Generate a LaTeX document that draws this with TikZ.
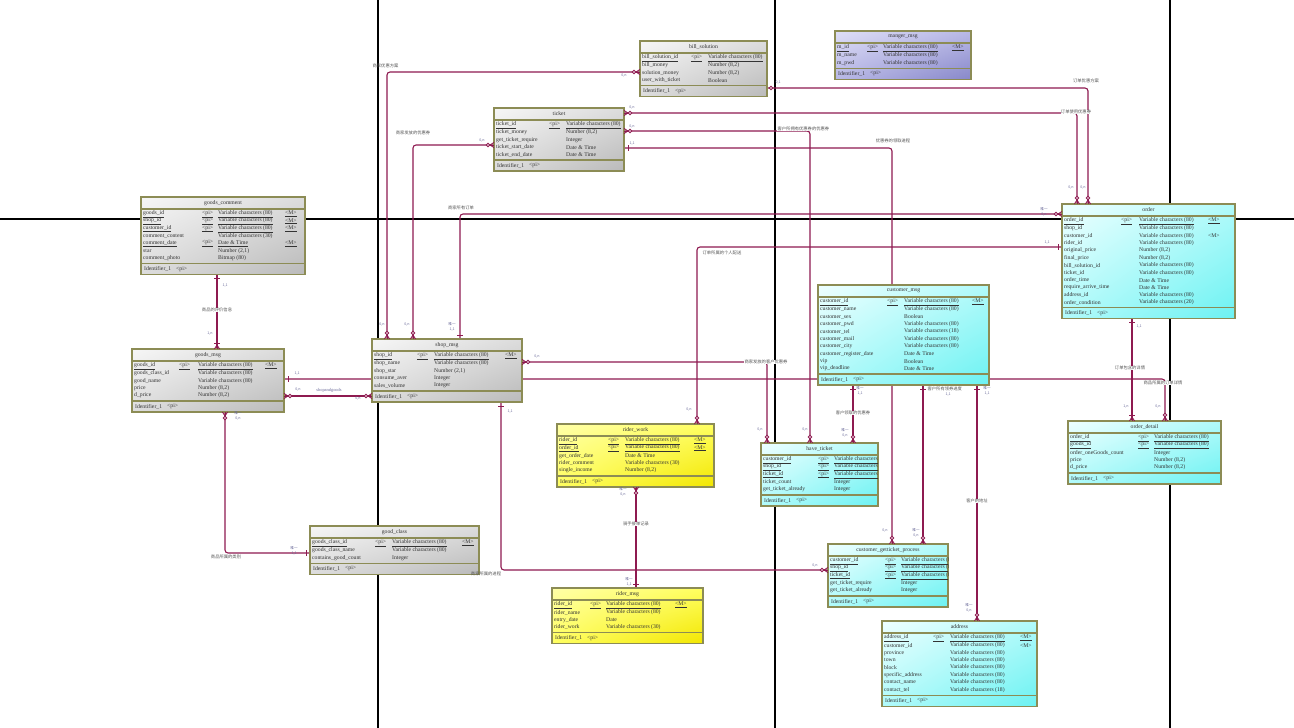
\documentclass[tikz,border=0pt]{standalone}
\usepackage{fontspec}
\setmainfont{Liberation Serif}
\newfontfamily\cjk{Noto Sans CJK SC}
\usetikzlibrary{calc,shadings}
\pgfdeclarelayer{back}\pgfdeclarelayer{bg}
\pgfsetlayers{back,bg,main}
\definecolor{bord}{HTML}{8C8C55}
\definecolor{relc}{HTML}{8E1A50}
\definecolor{cardc}{HTML}{6A6A9A}
\definecolor{labc}{HTML}{555555}
\definecolor{gA}{HTML}{F6F6F6}\definecolor{gM}{HTML}{DCDCDC}\definecolor{gB}{HTML}{BABABA}
\definecolor{cA}{HTML}{EEFFFF}\definecolor{cM}{HTML}{B0FAFA}\definecolor{cB}{HTML}{6CF2F2}
\definecolor{yA}{HTML}{FFFFA8}\definecolor{yM}{HTML}{FFFF60}\definecolor{yB}{HTML}{F2E600}
\definecolor{pA}{HTML}{DEDEF6}\definecolor{pM}{HTML}{B8B8E6}\definecolor{pB}{HTML}{8888CA}
\newcount\rowi
\newcount\nodecnt
\tikzset{
 autoname/.code={\global\advance\nodecnt by 1\edef\tmpnn{nd\the\nodecnt}\pgfkeysalso{name=\tmpnn}},
 tab/.style={draw=bord, line width=1.1pt, anchor=north west, inner sep=0pt, outer sep=0pt},
 grayfill/.style={upper left=gA, upper right=gM, lower left=gM, lower right=gB},
 cyanfill/.style={upper left=cA, upper right=cM, lower left=cM, lower right=cB},
 yelfill/.style={upper left=yA, upper right=yM, lower left=yM, lower right=yB},
 purfill/.style={upper left=pA, upper right=pM, lower left=pM, lower right=pB},
 sepl/.style={draw=bord, line width=1.1pt},
 txt/.style={autoname, anchor=west, inner sep=0pt, font=\fontsize{5.7}{7}\selectfont, text=black!80},
 ttl/.style={inner sep=0pt, font=\fontsize{5.7}{7}\selectfont, text=black!80},
 rel/.style={draw=relc, line width=1.1pt, rounded corners=3pt},
 card/.style={autoname, inner sep=0pt, font=\cjk\fontsize{3.6}{4}\selectfont, text=cardc},
 lab/.style={autoname, inner sep=0.4pt, font=\cjk\fontsize{4.3}{5}\selectfont, text=labc},
 labw/.style={lab, fill=white},
 pageline/.style={draw=black, line width=1.3pt},
}
\newcommand\setcols[3]{\def\ca{#1}\def\cb{#2}\def\cc{#3}}
\newcommand\ertab[8]{%
 \pgfmathsetmacro\tabh{26+#5*7.4}%
 \node[tab,#6,minimum width=#4pt,minimum height=\tabh pt] (#1) at (#2,#3) {};
 \draw[sepl] (#2,{#3+12}) -- ++(#4,0);
 \draw[sepl] (#2,{#3+\tabh-11}) -- ++(#4,0);
 \node[ttl] (#1-t) at ({#2+#4/2},{#3+6}) {#7};
 \node[txt] (#1-i) at ({#2+3},{#3+\tabh-5.5}) {Identifier\_1};
 \node[txt] (#1-p) at ({#2+35},{#3+\tabh-5.5}) {<pi>};
 \begin{scope}
 \clip (#2,#3) rectangle ++(#4,\tabh);
 \def\tx{#2}\def\ty{#3}\global\rowi=0
 #8
 \end{scope}}
\newcommand\erow[3]{\global\advance\rowi by 1
 \pgfmathsetmacro\ry{\ty+17+(\the\rowi-1)*7.4}%
 \node[txt] at ({\tx+2},\ry) {#1};
 \node[txt] at ({\tx+\cb},\ry) {#2};
 \node[txt] at ({\tx+\cc},\ry) {#3};}
\newcommand\ekey[3]{\global\advance\rowi by 1
 \pgfmathsetmacro\ry{\ty+17+(\the\rowi-1)*7.4}%
 \node[txt] at ({\tx+2},\ry) {\underline{#1}};
 \node[txt] at ({\tx+\ca},\ry) {\underline{<pi>}};
 \node[txt] at ({\tx+\cb},\ry) {\underline{#2}};
 \node[txt] at ({\tx+\cc},\ry) {\underline{#3}};}
\newcommand\emark[3]{\begin{scope}[shift={(#1)},rotate=#2,draw=relc,line width=0.8pt]#3\end{scope}}
\def\mcrow{\draw (0,-2.6) -- (4,0) -- (0,2.6); \draw (0,0) -- (4,0);}
\def\mZN{\mcrow \draw[fill=white] (6,0) circle (1.7);}
\def\mON{\mcrow \draw (6,-2.6) -- (6,2.6);}
\def\mOO{\draw (4,-2.8) -- (4,2.8);}
\def\mZO{\draw[fill=white] (4,0) circle (1.7);}
\begin{document}
\begin{tikzpicture}[x=1pt,y=-1pt]
\useasboundingbox (0,0) rectangle (1294,728);
\begin{pgfonlayer}{back}
\fill[white] (0,0) rectangle (1294,728);
\draw[pageline] (378,0) -- (378,728);
\draw[pageline] (775,0) -- (775,728);
\draw[pageline] (1170,0) -- (1170,728);
\draw[pageline] (0,219) -- (1294,219);
\end{pgfonlayer}

% ---------------- tables ----------------
\setcols{51}{68}{140}
\ertab{bill}{640}{41}{127}{4}{grayfill}{bill\_solution}{
 \ekey{bill\_solution\_id}{Variable characters (80)}{<M>}
 \erow{bill\_money}{Number (8,2)}{}
 \erow{solution\_money}{Number (8,2)}{}
 \erow{user\_with\_ticket}{Boolean}{}}

\setcols{32}{48}{117}
\ertab{manger}{835}{31}{136}{3}{purfill}{manger\_msg}{
 \ekey{m\_id}{Variable characters (80)}{<M>}
 \erow{m\_name}{Variable characters (80)}{}
 \erow{m\_pwd}{Variable characters (80)}{}}

\setcols{55}{72}{140}
\ertab{ticket}{494}{108}{130}{5}{grayfill}{ticket}{
 \ekey{ticket\_id}{Variable characters (80)}{<M>}
 \erow{ticket\_money}{Number (8,2)}{}
 \erow{get\_ticket\_require}{Integer}{}
 \erow{ticket\_start\_date}{Date \& Time}{}
 \erow{ticket\_end\_date}{Date \& Time}{}}

\setcols{61}{77}{144}
\ertab{gcomment}{141}{197}{164}{7}{grayfill}{goods\_comment}{
 \ekey{goods\_id}{Variable characters (80)}{<M>}
 \ekey{shop\_id}{Variable characters (80)}{<M>}
 \ekey{customer\_id}{Variable characters (80)}{<M>}
 \erow{comment\_content}{Variable characters (30)}{}
 \ekey{comment\_date}{Date \& Time}{<M>}
 \erow{star}{Number (2,1)}{}
 \erow{comment\_photo}{Bitmap (80)}{}}

\setcols{59}{77}{146}
\ertab{order}{1062}{204}{173}{12}{cyanfill}{order}{
 \ekey{order\_id}{Variable characters (80)}{<M>}
 \erow{shop\_id}{Variable characters (80)}{}
 \erow{customer\_id}{Variable characters (80)}{<M>}
 \erow{rider\_id}{Variable characters (80)}{}
 \erow{original\_price}{Number (8,2)}{}
 \erow{final\_price}{Number (8,2)}{}
 \erow{bill\_solution\_id}{Variable characters (80)}{}
 \erow{ticket\_id}{Variable characters (80)}{}
 \erow{order\_time}{Date \& Time}{}
 \erow{require\_arrive\_time}{Date \& Time}{}
 \erow{address\_id}{Variable characters (80)}{}
 \erow{order\_condition}{Variable characters (20)}{}}

\setcols{69}{86}{154}
\ertab{cust}{818}{285}{171}{10}{cyanfill}{customer\_msg}{
 \ekey{customer\_id}{Variable characters (80)}{<M>}
 \erow{customer\_name}{Variable characters (80)}{}
 \erow{customer\_sex}{Boolean}{}
 \erow{customer\_pwd}{Variable characters (80)}{}
 \erow{customer\_tel}{Variable characters (18)}{}
 \erow{customer\_mail}{Variable characters (80)}{}
 \erow{customer\_city}{Variable characters (80)}{}
 \erow{customer\_register\_date}{Date \& Time}{}
 \erow{vip}{Boolean}{}
 \erow{vip\_deadline}{Date \& Time}{}}

\setcols{45}{62}{133}
\ertab{shop}{372}{339}{150}{5}{grayfill}{shop\_msg}{
 \ekey{shop\_id}{Variable characters (80)}{<M>}
 \erow{shop\_name}{Variable characters (80)}{}
 \erow{shop\_star}{Number (2,1)}{}
 \erow{consume\_aver}{Integer}{}
 \erow{sales\_volume}{Integer}{}}

\setcols{47}{66}{133}
\ertab{gmsg}{132}{349}{152}{5}{grayfill}{goods\_msg}{
 \ekey{goods\_id}{Variable characters (80)}{<M>}
 \erow{goods\_class\_id}{Variable characters (80)}{}
 \erow{good\_name}{Variable characters (80)}{}
 \erow{price}{Number (8,2)}{}
 \erow{d\_price}{Number (8,2)}{}}

\setcols{51}{68}{137}
\ertab{rwork}{557}{424}{157}{5}{yelfill}{rider\_work}{
 \ekey{rider\_id}{Variable characters (80)}{<M>}
 \ekey{order\_id}{Variable characters (80)}{<M>}
 \erow{get\_order\_date}{Date \& Time}{}
 \erow{rider\_comment}{Variable characters (30)}{}
 \erow{single\_income}{Number (8,2)}{}}

\setcols{57}{73}{140}
\ertab{hticket}{761}{443}{117}{5}{cyanfill}{have\_ticket}{
 \ekey{customer\_id}{Variable characters (80)}{}
 \ekey{shop\_id}{Variable characters (80)}{}
 \ekey{ticket\_id}{Variable characters (80)}{}
 \erow{ticket\_count}{Integer}{}
 \erow{get\_ticket\_already}{Integer}{}}

\setcols{70}{86}{150}
\ertab{odetail}{1068}{421}{153}{5}{cyanfill}{order\_detail}{
 \ekey{order\_id}{Variable characters (80)}{}
 \ekey{goods\_id}{Variable characters (80)}{}
 \erow{order\_oneGoods\_count}{Integer}{}
 \erow{price}{Number (8,2)}{}
 \erow{d\_price}{Number (8,2)}{}}

\setcols{65}{82}{152}
\ertab{gclass}{310}{526}{169}{3}{grayfill}{good\_class}{
 \ekey{goods\_class\_id}{Variable characters (80)}{<M>}
 \erow{goods\_class\_name}{Variable characters (80)}{}
 \erow{contains\_good\_count}{Integer}{}}

\setcols{57}{73}{140}
\ertab{cgp}{828}{544}{120}{5}{cyanfill}{customer\_getticket\_process}{
 \ekey{customer\_id}{Variable characters (80)}{}
 \ekey{shop\_id}{Variable characters (80)}{}
 \ekey{ticket\_id}{Variable characters (80)}{}
 \erow{get\_ticket\_require}{Integer}{}
 \erow{get\_ticket\_already}{Integer}{}}

\setcols{51}{68}{138}
\ertab{addr}{882}{621}{155}{8}{cyanfill}{address}{
 \ekey{address\_id}{Variable characters (80)}{<M>}
 \erow{customer\_id}{Variable characters (80)}{<M>}
 \erow{province}{Variable characters (80)}{}
 \erow{town}{Variable characters (80)}{}
 \erow{block}{Variable characters (80)}{}
 \erow{specific\_address}{Variable characters (80)}{}
 \erow{contact\_name}{Variable characters (80)}{}
 \erow{contact\_tel}{Variable characters (18)}{}}

\setcols{38}{54}{123}
\ertab{rmsg}{552}{588}{151}{4}{yelfill}{rider\_msg}{
 \ekey{rider\_id}{Variable characters (80)}{<M>}
 \erow{rider\_name}{Variable characters (80)}{}
 \erow{entry\_date}{Date}{}
 \erow{rider\_work}{Variable characters (30)}{}}

% ---------------- connectors ----------------
\coordinate (A1) at (shop.north -| 387,0);   \coordinate (A2) at (bill.west |- 0,72);
\coordinate (B1) at (shop.north -| 413,0);   \coordinate (B2) at (ticket.west |- 0,145);
\coordinate (C1) at (shop.north -| 460,0);   \coordinate (C2) at (order.west |- 0,214);
\coordinate (D1) at (bill.east |- 0,88);     \coordinate (D2) at (order.north -| 1088,0);
\coordinate (E1) at (ticket.east |- 0,113);  \coordinate (E2) at (order.north -| 1077,0);
\coordinate (F1) at (ticket.east |- 0,131);  \coordinate (F2) at (hticket.north -| 810,0);
\coordinate (G1) at (ticket.east |- 0,148);  \coordinate (G2) at (cgp.north -| 892,0);
\coordinate (H1) at (order.west |- 0,247);   \coordinate (H2) at (rwork.north -| 697,0);
\coordinate (I1) at (shop.east |- 0,362);    \coordinate (I2) at (hticket.north -| 767,0);
\coordinate (J1) at (gmsg.east |- 0,379);    \coordinate (J2) at (odetail.north -| 1165,0);
\coordinate (K1) at (gmsg.east |- 0,396);    \coordinate (K2) at (shop.west |- 0,396);
\coordinate (O1) at (order.south -| 1132,0); \coordinate (O2) at (odetail.north -| 1132,0);
\coordinate (L1) at (gcomment.south -| 217,0); \coordinate (L2) at (gmsg.north -| 217,0);
\coordinate (N1) at (gmsg.south -| 225,0);   \coordinate (N2) at (gclass.west |- 0,553);
\coordinate (P1) at (shop.south -| 501,0);   \coordinate (P2) at (cgp.west |- 0,570);
\coordinate (Q1) at (rwork.south -| 636,0);  \coordinate (Q2) at (rmsg.north -| 636,0);
\coordinate (R1) at (cust.south -| 853,0);   \coordinate (R2) at (hticket.north -| 853,0);
\coordinate (S1) at (cust.south -| 923,0);   \coordinate (S2) at (cgp.north -| 923,0);
\coordinate (T1) at (cust.south -| 977,0);   \coordinate (T2) at (addr.north -| 977,0);

\begin{pgfonlayer}{bg}
\draw[rel] (A1) |- (A2);
\draw[rel] (B1) |- (B2);
\draw[rel] (C1) |- (C2);
\draw[rel] (D1) -| (D2);
\draw[rel] (E1) -| (E2);
\draw[rel] (F1) -| (F2);
\draw[rel] (G1) -| (G2);
\draw[rel] (H1) -| (H2);
\draw[rel] (I1) -| (I2);
\draw[rel] (J1) -| (J2);
\draw[rel] (K1) -- (K2);
\draw[rel] (O1) -- (O2);
\draw[rel] (L1) -- (L2);
\draw[rel] (N1) |- (N2);
\draw[rel] (P1) |- (P2);
\draw[rel] (Q1) -- (Q2);
\draw[rel] (R1) -- (R2);
\draw[rel] (S1) -- (S2);
\draw[rel] (T1) -- (T2);
\end{pgfonlayer}

% ---------------- end marks ----------------
\emark{A1}{90}{\mZN}   \emark{A2}{180}{\mZN}
\emark{B1}{90}{\mZN}   \emark{B2}{180}{\mZN}
\emark{C1}{90}{\mOO}   \emark{C2}{180}{\mZN}
\emark{D1}{0}{\mZO}    \emark{D2}{90}{\mZN}
\emark{E1}{0}{\mZN}    \emark{E2}{90}{\mZN}
\emark{F1}{0}{\mZN}    \emark{F2}{90}{\mZN}
\emark{G1}{0}{\mOO}    \emark{G2}{90}{\mZN}
\emark{H1}{180}{\mOO}  \emark{H2}{90}{\mZN}
\emark{I1}{0}{\mZN}    \emark{I2}{90}{\mZN}
\emark{J1}{0}{\mOO}    \emark{J2}{90}{\mZN}
\emark{K1}{0}{\mZN}    \emark{K2}{180}{\mZN}
\emark{O1}{270}{\mOO}  \emark{O2}{90}{\mON}
\emark{L1}{270}{\mOO}  \emark{L2}{90}{\mON}
\emark{N1}{270}{\mZN}  \emark{N2}{180}{\mOO}
\emark{P1}{270}{\mOO}  \emark{P2}{180}{\mZN}
\emark{Q1}{270}{\mZN}  \emark{Q2}{90}{\mOO}
\emark{R1}{270}{\mOO}  \emark{R2}{90}{\mZN}
\emark{S1}{270}{\mOO}  \emark{S2}{90}{\mZN}
\emark{T1}{270}{\mOO}  \emark{T2}{90}{\mZN}

% ---------------- cardinalities ----------------
\node[card] at (382,325) {0,n};  \node[card] at (624,76) {0,n};
\node[card] at (407,325) {0,n};  \node[card] at (482,141) {0,n};
\node[card] at (452,324) {唯一}; \node[card] at (452,330) {1,1};
\node[card] at (1044,209) {唯一}; \node[card] at (1044,215) {0,n};
\node[card] at (778,83) {0,1};   \node[card] at (1083,188) {0,n};
\node[card] at (632,108) {0,n};  \node[card] at (1071,188) {0,n};
\node[card] at (632,127) {0,n};  \node[card] at (805,430) {0,n};
\node[card] at (632,144) {1,1};  \node[card] at (885,531) {0,n};
\node[card] at (1047,243) {1,1}; \node[card] at (689,410) {0,n};
\node[card] at (537,357) {0,n};  \node[card] at (760,430) {0,n};
\node[card] at (297,374) {1,1};  \node[card] at (1158,407) {0,n};
\node[card] at (298,390) {0,n};  \node[card] at (358,399) {0,n};
\node[card] at (1139,327) {1,1}; \node[card] at (1126,407) {1,n};
\node[card] at (225,286) {1,1};  \node[card] at (210,334) {1,n};
\node[card] at (238,413) {唯一}; \node[card] at (238,419) {0,n};
\node[card] at (294,548) {唯一}; \node[card] at (294,554) {1,1};
\node[card] at (510,412) {1,1};  \node[card] at (815,566) {0,n};
\node[card] at (623,489) {唯一}; \node[card] at (623,495) {0,n};
\node[card] at (629,579) {唯一}; \node[card] at (629,585) {1,1};
\node[card] at (860,388) {唯一}; \node[card] at (860,394) {1,1};
\node[card] at (845,430) {唯一}; \node[card] at (845,436) {0,n};
\node[card] at (948,395) {1,1};
\node[card] at (916,530) {唯一}; \node[card] at (916,536) {0,n};
\node[card] at (987,388) {唯一}; \node[card] at (987,394) {1,1};
\node[card] at (969,605) {唯一}; \node[card] at (969,611) {0,n};
\node[card, font=\fontsize{4.4}{5}\selectfont] at (329,390) {shopandgoods};

% ---------------- role labels ----------------
\node[lab, anchor=west] at (372,66) {商家优惠方案};
\node[lab] at (413,133) {商家发放的优惠券};
\node[lab] at (461,208) {商家所有订单};
\node[lab] at (1086,81) {订单优惠方案};
\node[labw] at (1076,112) {订单使用优惠券};
\node[labw, anchor=west] at (777,129) {客户所拥有优惠券的优惠券};
\node[lab] at (893,141) {优惠券的领取进程};
\node[lab, anchor=west] at (702,253) {订单所属的个人配送};
\node[labw] at (766,362) {商家发放的客户优惠券};
\node[labw] at (1163,383) {商品所属的订单详情};
\node[labw] at (1130,368) {订单包含的详情};
\node[labw] at (217,310) {商品的评价信息};
\node[lab] at (226,557) {商品所属的类别};
\node[lab] at (486,574) {商家所属的进程};
\node[labw] at (636,524) {骑手接单记录};
\node[labw] at (853,413) {客户领取的优惠券};
\node[lab, anchor=west] at (927,389) {客户所有领券进度};
\node[labw] at (977,501) {客户的地址};
\end{tikzpicture}
\end{document}
